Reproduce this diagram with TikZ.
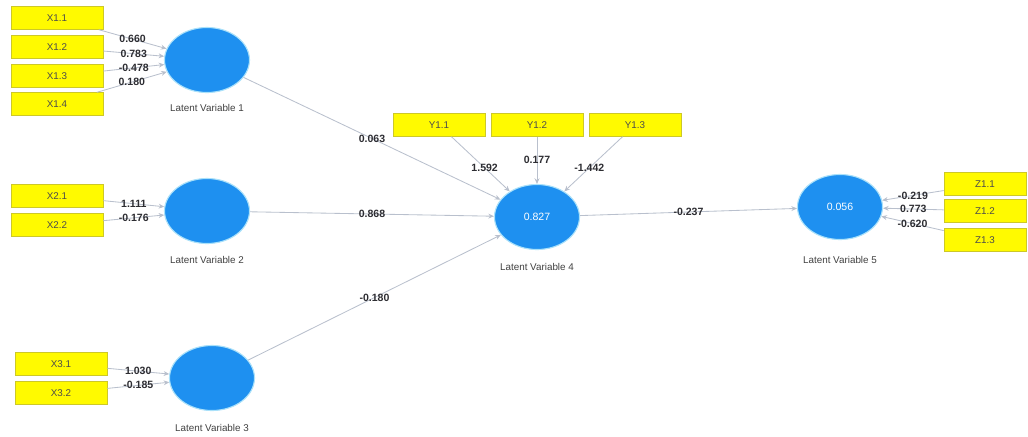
\documentclass[tikz,border=0pt]{standalone}
\usepackage{fontspec}
\setmainfont{Liberation Sans}
\usetikzlibrary{arrows.meta,shapes.geometric,positioning}
\definecolor{lvblue}{RGB}{30,144,240}
\definecolor{lvhalo}{RGB}{170,225,250}
\definecolor{indyellow}{RGB}{255,250,0}
\definecolor{indedge}{RGB}{205,200,40}
\definecolor{pathgray}{RGB}{185,192,205}
\definecolor{wtgray}{RGB}{45,45,50}
\tikzset{
	latent/.style={ellipse,fill=lvblue,draw=lvhalo,line width=0.8pt,minimum width=2.125cm,minimum height=1.625cm,inner sep=0pt,text=white,font=\fontsize{7.5}{8}\selectfont},
	indbox/.style={rectangle,fill=indyellow,draw=indedge,line width=0.4pt,minimum width=2.3cm,minimum height=0.57cm,inner sep=0pt,text=black!70,font=\fontsize{7}{8}\selectfont},
	lvname/.style={text=black!75,font=\fontsize{7}{8}\selectfont},
	conn/.style={draw=pathgray,line width=0.6pt,-{Stealth[length=4pt,width=3.5pt]}},
	wt/.style={text=wtgray,font=\bfseries\fontsize{7.5}{8}\selectfont,inner sep=0pt},
}
\begin{document}
\begin{tikzpicture}[x=0.025cm,y=-0.025cm]
\useasboundingbox (0,0) rectangle (1028,436);
% latent variables
\node[latent] (lv1) at (207,60){};
\node[latent] (lv2) at (207,211){};
\node[latent] (lv3) at (212,378){};
\node[latent] (lv4) at (537,217){0.827};
\node[latent] (lv5) at (840,207){0.056};
\node[lvname] (lv1n) at (207,108){Latent Variable 1};
\node[lvname] (lv2n) at (207,260){Latent Variable 2};
\node[lvname] (lv3n) at (212,428){Latent Variable 3};
\node[lvname] (lv4n) at (537,267){Latent Variable 4};
\node[lvname] (lv5n) at (840,260){Latent Variable 5};
% indicators
\node[indbox] (x11) at (57,18){X1.1};
\node[indbox] (x12) at (57,47){X1.2};
\node[indbox] (x13) at (57,76){X1.3};
\node[indbox] (x14) at (57,104){X1.4};
\node[indbox] (x21) at (57,196){X2.1};
\node[indbox] (x22) at (57,225){X2.2};
\node[indbox] (x31) at (61,364){X3.1};
\node[indbox] (x32) at (61,393){X3.2};
\node[indbox] (y11) at (439,125){Y1.1};
\node[indbox] (y12) at (537,125){Y1.2};
\node[indbox] (y13) at (635,125){Y1.3};
\node[indbox,minimum width=2.05cm] (z11) at (985,184){Z1.1};
\node[indbox,minimum width=2.05cm] (z12) at (985,211){Z1.2};
\node[indbox,minimum width=2.05cm] (z13) at (985,240){Z1.3};
% outer model
\draw[conn] (x11) -- node[wt]{0.660} (lv1);
\draw[conn] (x12) -- node[wt]{0.783} (lv1);
\draw[conn] (x13) -- node[wt]{-0.478} (lv1);
\draw[conn] (x14) -- node[wt]{0.180} (lv1);
\draw[conn] (x21) -- node[wt]{1.111} (lv2);
\draw[conn] (x22) -- node[wt]{-0.176} (lv2);
\draw[conn] (x31) -- node[wt]{1.030} (lv3);
\draw[conn] (x32) -- node[wt]{-0.185} (lv3);
\draw[conn] (y11) -- node[wt,pos=.57]{1.592} (lv4);
\draw[conn] (y12) -- node[wt,pos=.5]{0.177} (lv4);
\draw[conn] (y13) -- node[wt,pos=.57]{-1.442} (lv4);
\draw[conn] (z11) -- node[wt]{-0.219} (lv5);
\draw[conn] (z12) -- node[wt]{0.773} (lv5);
\draw[conn] (z13) -- node[wt]{-0.620} (lv5);
% inner model
\draw[conn] (lv1) -- node[wt]{0.063} (lv4);
\draw[conn] (lv2) -- node[wt]{0.868} (lv4);
\draw[conn] (lv3) -- node[wt]{-0.180} (lv4);
\draw[conn] (lv4) -- node[wt]{-0.237} (lv5);
\end{tikzpicture}
\end{document}
